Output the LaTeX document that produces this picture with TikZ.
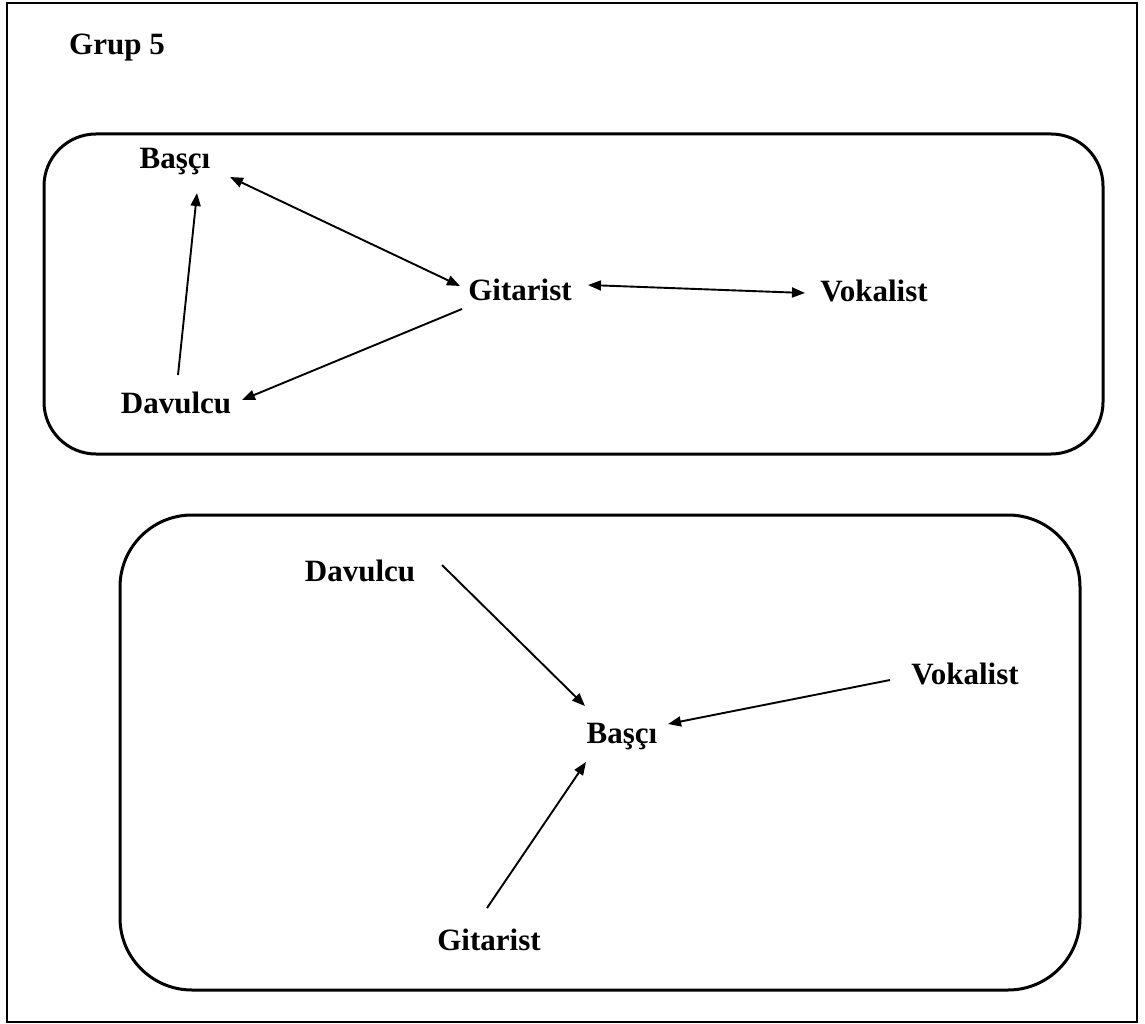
\documentclass[tikz,border=0pt]{standalone}
\usepackage{fontspec}
\setmainfont{Liberation Serif}
\usetikzlibrary{arrows.meta,calc}
\begin{document}
\begin{tikzpicture}[x=1pt,y=-1pt,
  member/.style={font=\fontsize{31}{35}\selectfont\bfseries, inner sep=0pt},
  arr/.style={line width=1.9pt, -{Triangle[length=13pt,width=10pt]}},
  biarr/.style={line width=1.9pt, {Triangle[length=13pt,width=10pt]}-{Triangle[length=13pt,width=10pt]}},
  group/.style={line width=3pt}]
  \useasboundingbox (0,0) rectangle (1145,1024);
  % frame
  \draw[line width=2pt] (7,3) rectangle (1137,1022);
  \node[member] (title) at (117,48) {Grup 5};

  % first group
  \draw[group, rounded corners=52pt] (44,134) rectangle (1103,454);
  \node[member] (bas1) at (175,162) {Başçı};
  \node[member] (git1) at (520,290) {Gitarist};
  \node[member] (vok1) at (874,291) {Vokalist};
  \node[member] (dav1) at (176,403) {Davulcu};
  \draw[arr] ($(dav1)+(2,-28)$) -- ($(bas1)+(22,31)$);
  \draw[biarr] ($(bas1)+(55,15)$) -- ($(git1)+(-60,-4)$);
  \draw[arr] ($(git1)+(-58,19)$) -- ($(dav1)+(66,-3)$);
  \draw[biarr] ($(git1)+(68,-5)$) -- ($(vok1)+(-69,2)$);

  % second group
  \draw[group, rounded corners=72pt] (120,515) rectangle (1080,990);
  \node[member] (dav2) at (360,571) {Davulcu};
  \node[member] (bas2) at (622,737) {Başçı};
  \node[member] (vok2) at (965,674) {Vokalist};
  \node[member] (git2) at (489,940) {Gitarist};
  \draw[arr] ($(dav2)+(82,-6)$) -- ($(bas2)+(-37,-31)$);
  \draw[arr] ($(vok2)+(-75,6)$) -- ($(bas2)+(46,-13)$);
  \draw[arr] ($(git2)+(-2,-32)$) -- ($(bas2)+(-36,25)$);
\end{tikzpicture}
\end{document}
